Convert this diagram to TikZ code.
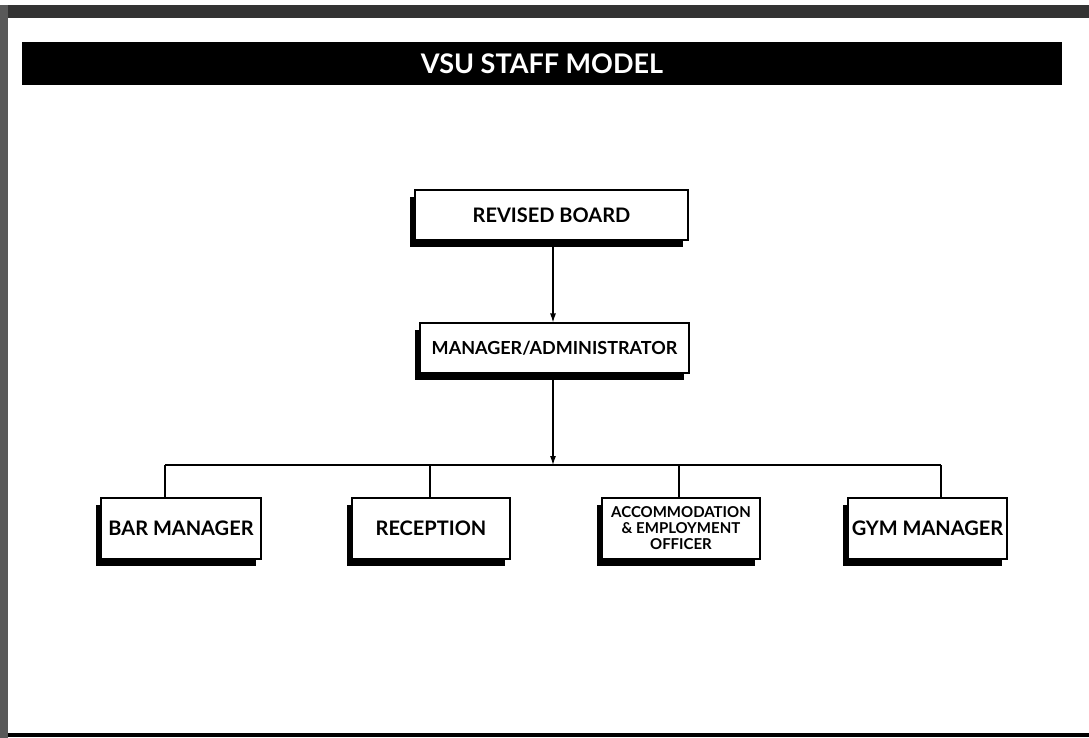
\documentclass[tikz,border=0pt]{standalone}
\usepackage{fontspec}
\setmainfont{Lato}
\usetikzlibrary{arrows.meta}
\tikzset{
  box/.style={draw=black, line width=1.1pt, fill=white, inner sep=2pt, align=center,
    font=\bfseries\fontsize{20}{23}\selectfont},
  shadowbox/.style={box, preaction={fill=black, transform canvas={shift={(-5pt,-7pt)}}}},
  conn/.style={draw=black, line width=1.1pt},
  arr/.style={conn, -{Latex[length=9pt,width=6pt]}},
}
\begin{document}
\begin{tikzpicture}[x=1pt,y=-1pt]
\useasboundingbox (0,0) rectangle (1089,738);
% page frame (scan edges)
\fill[black!80] (0,5) rectangle (1089,18);
\fill[black!65] (0,5) rectangle (8,738);
\fill[black] (8,733) rectangle (1089,737);
% title bar
\node[fill=black, minimum width=1040pt, minimum height=43pt, inner sep=0pt,
  text=white, font=\bfseries\fontsize{27}{30}\selectfont] (title) at (542,63.5) {VSU STAFF MODEL};
% boxes
\node[shadowbox, minimum width=273pt, minimum height=50pt] (rb) at (551.5,215) {REVISED BOARD};
\node[shadowbox, minimum width=269pt, minimum height=50pt, font=\bfseries\fontsize{18}{21}\selectfont] (ma) at (554.5,348) {MANAGER/ADMINISTRATOR};
\node[shadowbox, minimum width=160pt, minimum height=61pt] (bar) at (181,528.5) {BAR MANAGER};
\node[shadowbox, minimum width=158pt, minimum height=61pt] (rec) at (431,528.5) {RECEPTION};
\node[shadowbox, minimum width=158pt, minimum height=61pt, font=\bfseries\fontsize{15}{16}\selectfont] (acc) at (681,528.5) {ACCOMMODATION\\ \& EMPLOYMENT\\ OFFICER};
\node[shadowbox, minimum width=159pt, minimum height=61pt] (gym) at (927.5,528.5) {GYM MANAGER};
% junctions
\coordinate (ax) at (553,465);
\coordinate (j1) at (165,465);
\coordinate (j2) at (430,465);
\coordinate (j3) at (679,465);
\coordinate (j4) at (941,465);
% connectors
\draw[arr] (rb.south -| ax) -- (ma.north -| ax);
\draw[arr] (ma.south -| ax) -- (ax);
\draw[conn] (j1) -- (j4);
\draw[conn] (j1) -- (j1 |- bar.north);
\draw[conn] (j2) -- (j2 |- rec.north);
\draw[conn] (j3) -- (j3 |- acc.north);
\draw[conn] (j4) -- (j4 |- gym.north);
\end{tikzpicture}
\end{document}
